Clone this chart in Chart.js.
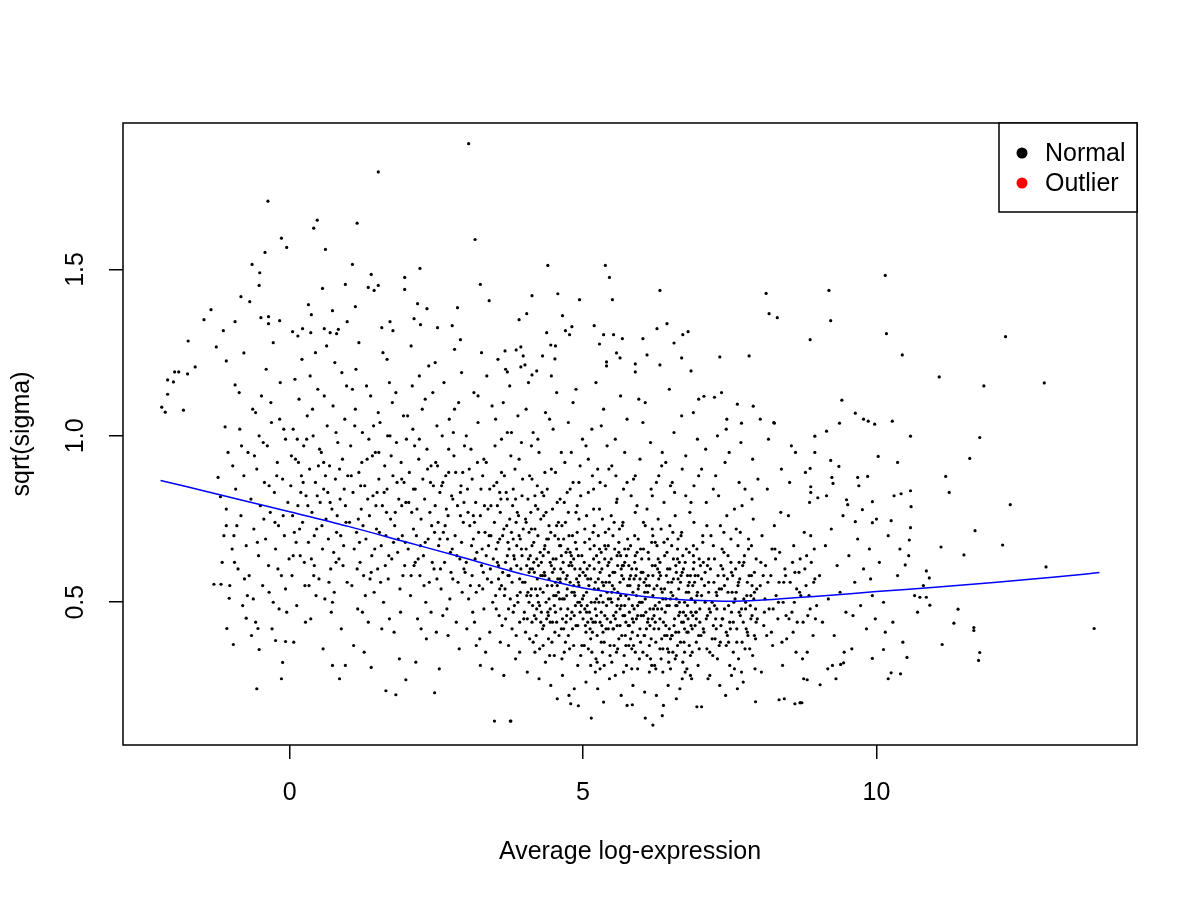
<!DOCTYPE html>
<html>
<head>
<meta charset="utf-8">
<script src="https://cdn.jsdelivr.net/npm/chart.js@4"></script>
<style>
  body { margin: 0; background: #fff; }
  canvas { display: block; }
</style>
</head>
<body>
<canvas id="myChart" width="1200" height="900"></canvas>
<script>
// axis set up
const xTicks = [0, 5, 10];
const yTicks = [0.5, 1.0, 1.5];
const legendLabels = ['Normal', 'Outlier'];
const legendColors = ['#000000', '#ff0000'];

// loess trend line
const trendX = [-2.2, -1, 0, 1, 2, 3, 3.5, 4, 4.5, 5, 5.5, 6, 6.5, 7, 7.5, 8, 8.5, 9, 10, 11, 12, 13, 13.8];
const trendY = [0.866, 0.815, 0.772, 0.728, 0.68, 0.632, 0.607, 0.583, 0.562, 0.543, 0.530, 0.518, 0.510, 0.505, 0.503, 0.506, 0.512, 0.518, 0.532, 0.545, 0.559, 0.575, 0.589];

// scattered genes away from the main cloud
const edgePts = [[3.05,1.878],[1.51,1.793],[-0.37,1.705],[0.47,1.648],[0.41,1.624],[1.15,1.639],[-0.14,1.594],[-0.05,1.566],[-0.42,1.551],[0.61,1.56],[3.16,1.59],
[-0.64,1.515],[-0.51,1.49],[-0.52,1.452],[1.07,1.515],[1.39,1.485],[2.22,1.503],[1.96,1.476],[0.95,1.455],[1.51,1.452],[1.34,1.446],[1.44,1.437],[0.56,1.443],[1.96,1.44],[3.25,1.455],[3.40,1.406],
[-0.83,1.418],[-0.68,1.403],[-1.34,1.379],[-1.46,1.349],[0.32,1.394],[0.37,1.364],[0.73,1.376],[1.12,1.388],[2.18,1.397],[2.34,1.382],[2.86,1.385],[3.91,1.349],[-0.49,1.355],[-0.36,1.358],[-0.36,1.337],
[-0.17,1.346],[-0.93,1.343],[-1.13,1.316],[-1.73,1.285],[-1.25,1.267],[-0.78,1.249],[-1.61,1.207],[-1.96,1.192],[-1.89,1.192],[-1.74,1.186],[-2.08,1.168],[-1.98,1.162],[-1.08,1.225],[-0.93,1.153],
[-2.08,1.125],[-2.18,1.086],[-2.12,1.071],[-1.81,1.077],[-1.10,1.027],[1.71,1.343],[1.57,1.325],[1.76,1.316],[2.12,1.352],[2.23,1.334],[2.52,1.325],[2.77,1.331],[2.91,1.289],[0.98,1.343],
[0.05,1.313],[0.22,1.322],[0.36,1.31],[0.59,1.322],[0.69,1.31],[0.80,1.307],
[4.40,1.512],[5.38,1.512],[5.45,1.476],[5.50,1.409],[6.31,1.437],[10.15,1.482],[8.12,1.428],[9.19,1.437],[8.17,1.367],[8.31,1.355],[9.22,1.346],[10.17,1.307],[8.87,1.289],
[4.13,1.421],[4.57,1.427],[4.94,1.409],[4.04,1.367],[4.65,1.361],[4.81,1.328],[4.70,1.316],[4.77,1.304],[5.19,1.331],[5.35,1.304],[5.52,1.304],[5.28,1.276],[5.67,1.292],[6.02,1.292],
[6.26,1.322],[6.43,1.337],[6.70,1.304],[6.79,1.313],[6.55,1.279],[4.38,1.31],[4.45,1.273],[4.53,1.27],[4.31,1.24],[4.52,1.231],[3.67,1.255],[3.86,1.258],[3.94,1.267],[3.98,1.24],[3.94,1.207],[4.01,1.213],
[3.71,1.192],[4.13,1.183],[4.21,1.195],[5.57,1.249],[5.63,1.234],[5.40,1.222],[5.40,1.21],[6.09,1.243],[5.89,1.216],[5.89,1.192],[6.31,1.213],[6.68,1.234],[6.84,1.195],[7.33,1.237],[7.83,1.24],
[7.06,1.119],[7.24,1.116],[6.97,1.11],[7.63,1.095],[7.90,1.089],[7.45,1.05],[7.70,1.038],[8.02,1.05],[8.26,1.038],[9.41,1.107],[9.64,1.068],[9.78,1.05],[9.86,1.044],[9.97,1.035],[10.27,1.044],
[9.37,1.038],[9.15,1.014],[8.95,0.999],[10.44,1.243],[12.20,1.298],[11.07,1.177],[11.83,1.15],[12.86,1.159],[10.58,0.999],[11.76,0.995],
[8.95,0.95],[9.22,0.926],[9.36,0.908],[8.87,0.902],[10.03,0.938],[10.36,0.92],[11.59,0.932],[9.68,0.875],[9.85,0.878],[11.18,0.878],[11.24,0.83],[9.24,0.875],[9.26,0.857],[8.88,0.847],[8.88,0.83],
[9.0,0.814],[10.42,0.826],[10.58,0.835],[9.49,0.808],[9.51,0.793],[9.93,0.802],[10.59,0.787],[12.28,0.793],[9.76,0.778],[9.64,0.742],[9.93,0.739],[10.25,0.745],[10.58,0.724],[11.68,0.715],
[10.56,0.687],[11.10,0.666],[12.15,0.672],[11.49,0.642],[12.89,0.606],[10.85,0.594],[10.90,0.573],[10.49,0.612],[10.74,0.515],[10.85,0.515],[10.91,0.491],[11.39,0.479],[11.32,0.437],[11.66,0.424],
[11.66,0.415],[11.12,0.373],[11.76,0.349],[11.74,0.325],[13.71,0.421],[10.52,0.334],[10.20,0.27],[10.25,0.288],[10.41,0.285],[9.93,0.331],[10.12,0.358],[9.31,0.27],[9.04,0.252],[8.82,0.267],
[8.70,0.198],[8.73,0.198],[9.17,0.30],[9.39,0.313],[9.44,0.318],
[-0.56,0.24],[-0.14,0.27],[-0.12,0.319],[-0.52,0.358],[-0.96,0.373],[-1.07,0.421],[-0.24,0.385],[-0.07,0.382],[0.85,0.27],[0.73,0.31],[0.95,0.31],[1.39,0.304],[1.64,0.234],[1.81,0.222],[2.47,0.228],
[3.49,0.143],[3.76,0.143],[1.98,0.267],[-1.29,0.554],[-1.17,0.554],[-1.03,0.512],[-1.08,0.73],[-1.18,0.817],[-1.22,0.875],[-0.74,0.452],[-0.54,0.421],
[3.77,0.143],[5.14,0.152],[6.06,0.152],[6.19,0.131],[6.35,0.159],[5.84,0.192],[4.79,0.195],[4.92,0.189],[6.94,0.186],[7.02,0.186],[7.94,0.201],[8.61,0.195],[8.70,0.198],[8.34,0.207],[8.43,0.21]];

// main cloud, left part (x < 2)
const cloudLeft = [[-1.15,0.62],[-1.08,0.78],[-1.02,0.55],[-0.97,0.91],[-0.95,0.70],[-0.92,0.84],[-0.88,0.60],[-0.85,1.02],[-0.83,0.76],[-0.80,0.49],[-0.78,0.88],[-0.74,0.67],[-0.71,0.95],[-0.69,0.58],[-0.66,0.81],
[-0.63,1.08],[-0.61,0.72],[-0.58,0.44],[-0.56,0.90],[-0.53,0.64],[-0.50,0.79],[-0.48,1.12],[-0.46,0.55],[-0.43,0.86],[-0.41,0.69],[-0.38,0.97],[-0.36,0.61],[-0.33,0.77],[-0.31,1.04],[-0.28,0.50],
[-0.26,0.83],[-0.24,0.66],[-0.21,0.92],[-0.19,0.73],[-0.16,1.16],[-0.14,0.58],[-0.12,0.87],[-0.09,0.70],[-0.07,0.99],[-0.05,0.47],[-0.03,0.80],[-0.01,0.63],[-0.90,0.73],[-0.72,0.52],[-0.52,1.00],
[-0.35,0.85],[-0.20,0.60],[-0.60,0.94],[-0.44,0.75],[-0.11,0.76],[-1.05,0.95],[-0.98,0.66],[-0.30,0.42],[-0.65,0.40],[-0.82,0.97],[-0.17,1.05],[-0.40,1.20],[-0.07,0.54],[-0.25,0.74],[-0.55,0.68],
[0.02,0.85],[0.04,0.58],[0.06,1.02],[0.08,0.71],[0.10,0.93],[0.12,0.49],[0.14,0.79],[0.16,1.11],[0.18,0.64],[0.20,0.88],[0.22,0.74],[0.24,0.97],[0.26,0.55],[0.28,0.82],[0.30,1.06],[0.32,0.68],
[0.34,0.90],[0.36,0.45],[0.38,0.77],[0.40,1.00],[0.42,0.61],[0.44,0.86],[0.46,0.72],[0.48,1.14],[0.50,0.57],[0.52,0.80],[0.54,0.95],[0.56,0.66],[0.58,0.84],[0.60,0.51],[0.62,0.75],[0.64,1.03],
[0.66,0.69],[0.68,0.91],[0.70,0.60],[0.72,0.78],[0.74,1.09],[0.76,0.53],[0.78,0.87],[0.80,0.71],[0.82,0.98],[0.84,0.63],[0.86,0.81],[0.88,0.42],[0.90,0.93],[0.92,0.67],[0.94,1.05],[0.96,0.74],
[0.98,0.56],[0.05,0.76],[0.15,0.92],[0.25,0.62],[0.35,1.18],[0.45,0.52],[0.55,0.73],[0.65,0.83],[0.75,0.65],[0.85,0.90],[0.95,0.79],[0.11,0.68],[0.21,1.23],[0.31,0.79],[0.41,0.58],[0.51,0.96],
[0.61,0.88],[0.71,0.47],[0.81,0.76],[0.91,0.61],[0.07,0.38],[0.27,0.44],[0.57,0.36],[0.77,1.22],[0.97,1.15],[0.17,0.72],[0.37,0.63],[0.67,0.56],[0.87,0.70],[0.47,0.82],[0.13,0.99],[0.63,1.27],
[1.02,0.74],[1.04,0.97],[1.06,0.55],[1.08,0.83],[1.10,0.66],[1.12,1.08],[1.14,0.71],[1.16,0.48],[1.18,0.89],[1.20,0.62],[1.22,0.78],[1.24,1.01],[1.26,0.58],[1.28,0.85],[1.30,0.69],[1.32,0.93],
[1.34,0.44],[1.36,0.76],[1.38,1.12],[1.40,0.64],[1.42,0.82],[1.44,0.53],[1.46,0.95],[1.48,0.72],[1.50,0.60],[1.52,0.87],[1.54,1.04],[1.56,0.67],[1.58,0.79],[1.60,0.50],[1.62,0.91],[1.64,0.70],
[1.66,0.84],[1.68,0.57],[1.70,1.16],[1.72,0.75],[1.74,0.63],[1.76,0.88],[1.78,0.41],[1.80,0.77],[1.82,0.98],[1.84,0.65],[1.86,0.81],[1.88,0.54],[1.90,0.92],[1.92,0.70],[1.94,1.06],[1.96,0.61],
[1.98,0.80],[1.05,0.88],[1.15,0.60],[1.25,0.73],[1.35,0.99],[1.45,0.66],[1.55,0.56],[1.65,0.77],[1.75,1.10],[1.85,0.69],[1.95,0.86],[1.09,0.37],[1.29,0.52],[1.49,0.83],[1.69,0.64],[1.89,0.47],
[1.13,1.20],[1.33,0.81],[1.53,0.71],[1.73,0.94],[1.93,0.58],[1.19,0.68],[1.39,0.59],[1.59,1.25],[1.79,0.73],[1.99,0.99],[1.23,0.92],[1.43,1.03],[1.63,0.61],[1.83,0.86],[1.27,0.35],[1.57,0.42],
[1.87,0.33],[1.47,0.79],[1.67,1.00],[1.97,0.68],[1.07,1.14]];

// main cloud, middle part (2 <= x < 5)
const cloudMid = [[2.02,0.66],[2.04,0.89],[2.06,0.52],[2.08,0.77],[2.10,1.02],[2.12,0.61],[2.14,0.84],[2.16,0.70],[2.18,0.45],[2.20,0.93],[2.22,0.58],[2.24,0.75],[2.26,1.08],[2.28,0.64],[2.30,0.81],
[2.32,0.50],[2.34,0.96],[2.36,0.69],[2.38,0.56],[2.40,0.86],[2.42,0.73],[2.44,1.13],[2.46,0.60],[2.48,0.79],[2.50,0.41],[2.52,0.91],[2.54,0.67],[2.56,0.83],[2.58,0.54],[2.60,1.00],[2.62,0.71],
[2.64,0.62],[2.66,0.88],[2.68,0.48],[2.70,0.76],[2.72,1.05],[2.74,0.65],[2.76,0.82],[2.78,0.57],[2.80,0.94],[2.82,0.70],[2.84,0.44],[2.86,0.79],[2.88,1.10],[2.90,0.63],[2.92,0.85],[2.94,0.53],
[2.96,0.74],[2.98,0.97],[2.03,0.80],[2.13,0.97],[2.23,0.67],[2.33,0.39],[2.43,0.62],[2.53,0.74],[2.63,1.16],[2.73,0.51],[2.83,0.89],[2.93,0.68],[2.07,0.58],[2.17,0.78],[2.27,0.87],[2.37,1.21],
[2.47,0.71],[2.57,0.60],[2.67,0.78],[2.77,0.66],[2.87,0.56],[2.97,0.80],[2.09,1.15],[2.29,0.55],[2.49,0.92],[2.69,0.69],[2.89,0.36],[2.19,0.63],[2.39,0.77],[2.59,0.85],[2.79,1.01],[2.99,0.59],
[2.11,0.72],[2.31,0.68],[2.51,0.57],[2.71,0.89],[2.91,0.76],[2.15,0.32],[2.55,0.30],[2.81,1.26],[2.41,0.47],[2.61,0.46],[2.21,1.18],[2.65,0.73],[2.85,0.64],[2.45,0.85],[2.75,0.59],[2.95,0.89],
[3.01,0.62],[3.03,0.84],[3.05,0.51],[3.07,0.73],[3.09,0.96],[3.11,0.58],[3.13,0.69],[3.15,0.44],[3.17,0.80],[3.19,0.65],[3.21,1.04],[3.23,0.55],[3.25,0.76],[3.27,0.61],[3.29,0.88],[3.31,0.48],
[3.33,0.71],[3.35,0.92],[3.37,0.57],[3.39,0.67],[3.41,0.41],[3.43,0.79],[3.45,1.09],[3.47,0.63],[3.49,0.74],[3.51,0.52],[3.53,0.86],[3.55,0.68],[3.57,0.46],[3.59,0.77],[3.61,0.99],[3.63,0.59],
[3.65,0.72],[3.67,0.54],[3.69,0.83],[3.71,0.64],[3.73,0.37],[3.75,0.75],[3.77,0.94],[3.79,0.56],[3.81,0.69],[3.83,0.49],[3.85,0.81],[3.87,0.61],[3.89,1.06],[3.91,0.70],[3.93,0.53],[3.95,0.66],
[3.97,0.87],[3.99,0.45],[3.02,0.42],[3.06,0.90],[3.10,0.67],[3.14,1.13],[3.18,0.53],[3.22,0.71],[3.26,0.84],[3.30,0.59],[3.34,0.35],[3.38,0.78],[3.42,0.60],[3.46,0.50],[3.50,0.97],[3.54,0.62],
[3.58,0.69],[3.62,0.43],[3.66,0.88],[3.70,0.73],[3.74,0.58],[3.78,1.01],[3.82,0.64],[3.86,0.40],[3.90,0.76],[3.94,0.60],[3.98,0.72],[3.04,0.77],[3.12,0.47],[3.20,0.92],[3.28,0.66],[3.36,1.18],
[3.44,0.56],[3.52,0.66],[3.60,0.81],[3.68,0.62],[3.76,0.51],[3.84,0.90],[3.92,0.57],[3.08,0.55],[3.16,0.63],[3.24,0.39],[3.32,0.79],[3.40,0.70],[3.48,0.85],[3.56,0.57],[3.64,1.10],[3.72,0.68],
[3.80,0.79],[3.88,0.52],[3.96,0.82],[3.45,0.30],[3.65,0.28],[3.85,0.33],[3.25,0.31],[3.55,1.23],[3.75,1.15],[3.95,0.98],[3.15,0.74],[3.35,0.64],[3.58,0.54],[3.78,0.71],[3.92,0.44],
[4.01,0.56],[4.03,0.74],[4.05,0.45],[4.07,0.63],[4.09,0.88],[4.11,0.52],[4.13,0.67],[4.15,0.38],[4.17,0.59],[4.19,0.79],[4.21,0.48],[4.23,0.70],[4.25,0.95],[4.27,0.54],[4.29,0.62],[4.31,0.42],
[4.33,0.76],[4.35,0.58],[4.37,0.50],[4.39,0.84],[4.41,0.65],[4.43,0.34],[4.45,0.71],[4.47,0.55],[4.49,1.02],[4.51,0.60],[4.53,0.47],[4.55,0.73],[4.57,0.57],[4.59,0.40],[4.61,0.81],[4.63,0.64],
[4.65,0.51],[4.67,0.69],[4.69,0.92],[4.71,0.44],[4.73,0.58],[4.75,0.77],[4.77,0.36],[4.79,0.62],[4.81,0.53],[4.83,0.86],[4.85,0.46],[4.87,0.68],[4.89,0.57],[4.91,0.31],[4.93,0.75],[4.95,0.60],
[4.97,0.49],[4.99,0.99],[4.02,0.41],[4.06,0.81],[4.10,0.60],[4.14,0.49],[4.18,0.72],[4.22,0.57],[4.26,0.36],[4.30,0.83],[4.34,0.66],[4.38,0.45],[4.42,0.57],[4.46,0.90],[4.50,0.52],[4.54,0.63],
[4.58,0.74],[4.62,0.48],[4.66,0.59],[4.70,0.38],[4.74,0.66],[4.78,0.84],[4.82,0.42],[4.86,0.60],[4.90,0.71],[4.94,0.50],[4.98,0.64],[4.04,0.61],[4.08,0.50],[4.12,0.97],[4.16,0.68],[4.20,0.40],
[4.24,0.61],[4.28,0.75],[4.32,0.53],[4.36,1.07],[4.40,0.47],[4.44,0.62],[4.48,0.78],[4.52,0.41],[4.56,0.55],[4.60,0.67],[4.64,0.33],[4.68,0.80],[4.72,0.52],[4.76,0.61],[4.80,0.95],[4.84,0.55],
[4.88,0.43],[4.92,0.64],[4.96,0.82],[4.05,0.29],[4.25,0.27],[4.45,0.25],[4.65,0.28],[4.85,0.24],[4.15,1.01],[4.35,0.89],[4.55,1.13],[4.75,1.04],[4.95,0.91],[4.12,0.54],[4.32,0.64],[4.52,0.70],
[4.72,0.46],[4.92,0.56],[4.08,0.71],[4.28,0.44],[4.48,0.59],[4.68,0.51],[4.88,0.77],[4.18,0.35],[4.38,0.69],[4.58,0.53],[4.78,0.56],[4.98,0.37],[4.22,0.85],[4.42,0.51],[4.62,0.60],[4.82,0.70],
[4.24,0.50],[4.44,0.44],[4.64,0.73],[4.84,0.63],[4.11,0.77],[4.31,0.58],[4.51,0.49],[4.71,0.65],[4.91,0.50],[4.21,0.63],[4.41,0.39],[4.61,0.56],[4.81,0.47],[4.56,0.21],[4.76,0.22],[4.36,0.32]];

// main cloud, dense core (5 <= x < 7)
const cloudCore = [[5.00,0.45],[5.01,0.52],[5.03,0.68],[5.05,0.41],[5.07,0.60],[5.09,0.83],[5.11,0.47],[5.13,0.57],[5.15,0.35],[5.17,0.71],[5.19,0.54],[5.21,0.44],[5.23,0.64],[5.25,0.90],[5.27,0.50],
[5.29,0.59],[5.31,0.38],[5.33,0.75],[5.35,0.55],[5.37,0.46],[5.39,0.66],[5.41,0.97],[5.43,0.42],[5.45,0.58],[5.47,0.51],[5.49,0.32],[5.51,0.70],[5.53,0.54],[5.55,0.45],[5.57,0.80],[5.59,0.61],
[5.61,0.39],[5.63,0.56],[5.65,0.49],[5.67,0.73],[5.69,0.29],[5.71,0.62],[5.73,0.52],[5.75,0.86],[5.77,0.43],[5.79,0.57],[5.81,0.67],[5.83,0.36],[5.85,0.53],[5.87,0.48],[5.89,0.77],[5.91,0.60],
[5.93,0.40],[5.95,0.55],[5.97,0.93],[5.99,0.46],[5.02,0.37],[5.06,0.76],[5.10,0.55],[5.14,0.45],[5.18,0.63],[5.22,0.33],[5.26,0.70],[5.30,0.52],[5.34,0.41],[5.38,0.85],[5.42,0.61],[5.46,0.37],
[5.50,0.55],[5.54,0.66],[5.58,0.43],[5.62,0.72],[5.66,0.58],[5.70,0.34],[5.74,0.64],[5.78,0.51],[5.82,0.82],[5.86,0.44],[5.90,0.58],[5.94,0.69],[5.98,0.38],[5.04,0.58],[5.08,0.44],[5.12,0.66],
[5.16,0.88],[5.20,0.50],[5.24,0.40],[5.28,0.78],[5.32,0.60],[5.36,0.31],[5.40,0.49],[5.44,0.72],[5.48,0.63],[5.52,0.42],[5.56,0.88],[5.60,0.51],[5.64,0.64],[5.68,0.46],[5.72,0.40],[5.76,0.69],
[5.80,0.55],[5.84,0.45],[5.88,0.62],[5.92,0.79],[5.96,0.50],[6.00,0.63],[5.05,0.26],[5.25,0.24],[5.45,0.27],[5.65,0.22],[5.85,0.25],[5.15,1.02],[5.35,1.08],[5.55,0.99],[5.75,1.05],[5.95,1.11],
[5.11,0.61],[5.31,0.47],[5.51,0.59],[5.71,0.49],[5.91,0.52],[5.07,0.49],[5.27,0.62],[5.47,0.44],[5.67,0.61],[5.87,0.57],[5.13,0.39],[5.33,0.56],[5.53,0.74],[5.73,0.37],[5.93,0.46],[5.19,0.73],
[5.39,0.42],[5.59,0.53],[5.79,0.47],[5.99,0.59],[5.21,0.56],[5.41,0.53],[5.61,0.65],[5.81,0.39],[5.03,0.48],[5.23,0.51],[5.43,0.67],[5.63,0.43],[5.83,0.60],[5.17,0.44],[5.37,0.63],[5.57,0.35],
[5.77,0.66],[5.97,0.42],[5.29,0.30],[5.49,0.50],[5.69,0.57],[5.89,0.35],[5.09,0.93],[5.29,0.86],[5.49,0.91],[5.69,0.84],[5.89,0.88],[5.35,0.20],[5.75,0.19],[5.55,0.28],[5.21,0.29],[5.93,0.30],
[6.01,0.50],[6.03,0.66],[6.05,0.40],[6.07,0.57],[6.09,0.78],[6.11,0.45],[6.13,0.55],[6.15,0.33],[6.17,0.68],[6.19,0.52],[6.21,0.42],[6.23,0.61],[6.25,0.86],[6.27,0.48],[6.29,0.57],[6.31,0.36],
[6.33,0.72],[6.35,0.53],[6.37,0.44],[6.39,0.64],[6.41,0.92],[6.43,0.40],[6.45,0.56],[6.47,0.49],[6.49,0.30],[6.51,0.67],[6.53,0.52],[6.55,0.43],[6.57,0.76],[6.59,0.59],[6.61,0.37],[6.63,0.54],
[6.65,0.47],[6.67,0.70],[6.69,0.27],[6.71,0.60],[6.73,0.50],[6.75,0.82],[6.77,0.41],[6.79,0.55],[6.81,0.65],[6.83,0.34],[6.85,0.51],[6.87,0.46],[6.89,0.74],[6.91,0.58],[6.93,0.38],[6.95,0.53],
[6.97,0.88],[6.99,0.44],[6.02,0.35],[6.06,0.73],[6.10,0.53],[6.14,0.43],[6.18,0.61],[6.22,0.31],[6.26,0.67],[6.30,0.50],[6.34,0.39],[6.38,0.80],[6.42,0.58],[6.46,0.35],[6.50,0.53],[6.54,0.63],
[6.58,0.41],[6.62,0.69],[6.66,0.56],[6.70,0.32],[6.74,0.62],[6.78,0.49],[6.82,0.77],[6.86,0.42],[6.90,0.56],[6.94,0.66],[6.98,0.36],[6.04,0.56],[6.08,0.42],[6.12,0.63],[6.16,0.84],[6.20,0.48],
[6.24,0.38],[6.28,0.75],[6.32,0.58],[6.36,0.29],[6.40,0.47],[6.44,0.69],[6.48,0.60],[6.52,0.40],[6.56,0.83],[6.60,0.49],[6.64,0.62],[6.68,0.44],[6.72,0.38],[6.76,0.66],[6.80,0.53],[6.84,0.43],
[6.88,0.60],[6.92,0.47],[6.96,0.58],[7.00,0.61],[6.05,0.23],[6.25,0.22],[6.45,0.25],[6.65,0.24],[6.85,0.27],[6.15,0.98],[6.35,0.95],[6.55,1.01],[6.75,0.94],[6.95,0.99],[6.11,0.58],[6.31,0.45],
[6.51,0.56],[6.71,0.47],[6.91,0.50],[6.07,0.47],[6.27,0.60],[6.47,0.42],[6.67,0.58],[6.87,0.55],[6.13,0.37],[6.33,0.54],[6.53,0.71],[6.73,0.35],[6.93,0.45],[6.19,0.70],[6.39,0.40],[6.59,0.51],
[6.79,0.45],[6.21,0.54],[6.41,0.51],[6.61,0.63],[6.81,0.37],[6.03,0.46],[6.23,0.49],[6.43,0.65],[6.63,0.41],[6.83,0.58],[6.17,0.31],[6.57,0.33],[6.77,0.30],[6.29,0.88],[6.49,0.85],[6.69,0.90],
[6.89,0.85],[6.37,0.19],[6.59,0.21]];

// extra genes in the darkest part of the cloud (3.5 <= x < 9)
const cloudDense = [[3.52,0.48],[3.56,0.61],[3.61,0.55],[3.63,0.70],[3.68,0.45],[3.72,0.58],[3.74,0.66],[3.79,0.42],[3.83,0.63],[3.86,0.74],[3.89,0.50],[3.93,0.69],[3.97,0.56],[4.00,0.47],[4.03,0.66],
[4.06,0.53],[4.09,0.39],[4.12,0.72],[4.14,0.60],[4.17,0.46],[4.19,0.54],[4.23,0.78],[4.26,0.49],[4.28,0.58],[4.33,0.43],[4.35,0.67],[4.39,0.55],[4.42,0.73],[4.44,0.48],[4.47,0.38],[4.49,0.63],
[4.53,0.56],[4.55,0.44],[4.58,0.69],[4.60,0.51],[4.63,0.42],[4.66,0.62],[4.68,0.35],[4.71,0.57],[4.74,0.48],[4.76,0.70],[4.79,0.45],[4.81,0.61],[4.84,0.37],[4.86,0.52],[4.89,0.66],[4.91,0.43],
[4.94,0.58],[4.96,0.34],[4.99,0.51],[5.02,0.62],[5.04,0.43],[5.06,0.53],[5.09,0.36],[5.11,0.69],[5.14,0.50],[5.16,0.41],[5.19,0.60],[5.21,0.48],[5.24,0.32],[5.26,0.57],[5.29,0.44],[5.31,0.65],
[5.34,0.50],[5.36,0.38],[5.39,0.56],[5.41,0.45],[5.44,0.62],[5.46,0.34],[5.49,0.53],[5.51,0.42],[5.54,0.59],[5.56,0.47],[5.59,0.36],[5.61,0.68],[5.64,0.52],[5.66,0.40],[5.69,0.61],[5.71,0.46],
[5.74,0.31],[5.76,0.55],[5.79,0.43],[5.81,0.58],[5.84,0.49],[5.86,0.37],[5.89,0.64],[5.91,0.45],[5.94,0.54],[5.96,0.33],[5.99,0.50],[6.02,0.59],[6.04,0.40],[6.06,0.51],[6.09,0.34],[6.11,0.65],
[6.14,0.48],[6.16,0.39],[6.19,0.58],[6.21,0.46],[6.24,0.30],[6.26,0.55],[6.29,0.42],[6.31,0.62],[6.34,0.48],[6.36,0.36],[6.39,0.54],[6.41,0.43],[6.44,0.60],[6.46,0.32],[6.49,0.51],[6.51,0.40],
[6.54,0.57],[6.56,0.45],[6.59,0.34],[6.61,0.66],[6.64,0.50],[6.66,0.38],[6.69,0.59],[6.71,0.44],[6.74,0.29],[6.76,0.53],[6.79,0.41],[6.81,0.56],[6.84,0.47],[6.86,0.35],[6.89,0.62],[6.91,0.43],
[6.94,0.52],[6.96,0.31],[6.99,0.48],[7.02,0.57],[7.05,0.42],[7.08,0.50],[7.11,0.36],[7.14,0.63],[7.17,0.47],[7.20,0.39],[7.23,0.56],[7.26,0.45],[7.29,0.33],[7.32,0.54],[7.35,0.43],[7.38,0.60],
[7.41,0.48],[7.44,0.37],[7.47,0.53],[7.50,0.44],[7.53,0.59],[7.56,0.35],[7.59,0.51],[7.62,0.42],[7.65,0.56],[7.68,0.46],[7.71,0.38],[7.74,0.62],[7.77,0.50],[7.80,0.41],[7.83,0.58],[7.86,0.45],
[7.89,0.34],[7.92,0.53],[7.95,0.44],
[3.54,0.79],[3.59,0.38],[3.66,0.52],[3.71,0.81],[3.77,0.60],[3.81,0.47],[3.88,0.77],[3.92,0.35],[3.96,0.64],[4.02,0.75],[4.08,0.59],[4.13,0.44],[4.18,0.82],[4.22,0.52],[4.27,0.65],[4.32,0.37],
[4.37,0.77],[4.41,0.46],[4.46,0.61],[4.51,0.34],[4.56,0.80],[4.61,0.57],[4.65,0.45],[4.70,0.74],[4.75,0.40],[4.80,0.64],[4.85,0.53],[4.90,0.79],[4.95,0.47],[5.03,0.72],[5.08,0.57],[5.13,0.31],
[5.18,0.78],[5.23,0.46],[5.28,0.66],[5.33,0.35],[5.38,0.71],[5.43,0.51],[5.48,0.76],[5.53,0.37],[5.58,0.64],[5.63,0.48],[5.68,0.74],[5.73,0.44],[5.78,0.61],[5.83,0.30],[5.88,0.70],[5.93,0.49],
[5.98,0.66],[6.03,0.74],[6.08,0.55],[6.13,0.29],[6.18,0.72],[6.23,0.44],[6.28,0.63],[6.33,0.33],[6.38,0.68],[6.43,0.49],[6.48,0.73],[6.53,0.35],[6.58,0.61],[6.63,0.46],[6.68,0.71],[6.73,0.42],
[6.78,0.58],[6.83,0.28],[6.88,0.67],[6.93,0.47],[6.98,0.63],[7.04,0.70],[7.10,0.45],[7.16,0.28],[7.22,0.67],[7.28,0.52],[7.34,0.38],[7.40,0.71],[7.46,0.40],[7.52,0.62],[7.58,0.30],[7.64,0.67],
[7.70,0.48],[7.76,0.36],[7.82,0.69],[7.88,0.55],[7.94,0.48],[8.03,0.62],[8.09,0.47],[8.15,0.56],[8.21,0.41],[8.27,0.66],[8.33,0.50],[8.39,0.38],[8.45,0.58],[8.51,0.45],[8.57,0.62],[8.63,0.35],
[8.69,0.53],[8.75,0.44],[8.81,0.64],[8.87,0.48],[8.93,0.56],
[0.06,0.64],[0.23,0.86],[0.42,0.70],[0.58,0.92],[0.79,0.62],[0.93,0.84],[1.17,0.75],[1.37,0.57],[1.52,0.95],[1.77,0.68],[1.91,0.79],[2.14,0.62],[2.35,0.90],[2.56,0.69],[2.78,0.81],[2.97,0.60],
[3.13,0.76],[3.29,0.54],[3.43,0.70],[3.58,0.83],[3.73,0.48],[3.87,0.67],[4.04,0.52],[4.16,0.62],[4.29,0.47],[4.41,0.69],[4.54,0.52],[4.67,0.42],[4.78,0.65],[4.93,0.55],[5.06,0.47],[5.19,0.67],
[5.32,0.43],[5.45,0.56],[5.58,0.49],[5.71,0.66],[5.84,0.41],[5.97,0.57],[6.10,0.44],[6.23,0.68],[6.36,0.51],[6.49,0.39],[6.62,0.57],[6.75,0.46],[6.88,0.64],[7.01,0.40],[7.14,0.53],[7.27,0.42],
[7.40,0.58],[7.53,0.47],[7.66,0.62],[7.79,0.52],[7.92,0.40],[8.07,0.58],[8.24,0.48],[8.42,0.56],[8.60,0.50],[8.78,0.60],[8.96,0.45],
[4.10,0.64],[4.20,0.45],[4.34,0.59],[4.48,0.44],[4.62,0.67],[4.73,0.54],[4.87,0.49],[5.00,0.59],[5.12,0.42],[5.26,0.54],[5.37,0.67],[5.52,0.46],[5.65,0.60],[5.78,0.37],[5.92,0.65],[6.05,0.53],
[6.18,0.45],[6.30,0.59],[6.44,0.36],[6.58,0.49],[6.70,0.64],[6.84,0.51],[6.97,0.40],[7.12,0.61],[7.24,0.49],[7.37,0.66],[7.48,0.38],[7.61,0.53],[7.73,0.44],[7.87,0.58]];

// extra genes in the upper half of the cloud
const cloudUpper = [[-0.45,0.98],[-0.32,1.10],[-0.22,0.88],[-0.10,1.02],[0.03,0.94],[0.09,1.17],[0.19,0.83],[0.29,0.99],[0.39,1.08],[0.49,0.91],[0.59,1.12],[0.69,0.80],[0.79,1.01],[0.89,1.19],
[0.99,0.88],[1.11,1.03],[1.21,0.85],[1.31,1.15],[1.41,0.94],[1.51,1.07],[1.61,0.83],[1.71,1.00],[1.81,1.13],[1.91,0.87],[2.01,1.06],[2.11,0.84],[2.21,0.99],[2.31,1.11],[2.41,0.91],[2.51,1.03],
[2.61,0.86],[2.71,0.96],[2.81,1.08],[2.91,0.83],[3.01,1.00],[3.11,0.87],[3.21,1.12],[3.31,0.93],[3.41,0.84],[3.51,1.05],[3.61,0.89],[3.71,1.01],[3.81,0.84],[3.91,0.93],[4.03,1.08],[4.13,0.87],
[4.23,0.99],[4.33,0.82],[4.43,1.05],[4.53,0.89],[4.63,0.95],[4.73,0.83],[4.83,1.10],[4.93,0.86],[5.05,0.97],[5.18,0.84],[5.31,1.03],[5.44,0.90],[5.58,0.81],[5.71,0.95],[5.86,0.87],[6.02,1.04],
[6.18,0.82],[6.34,0.91],[6.52,0.86],[6.68,1.06],[6.84,0.80],[7.02,0.90],[7.22,0.84],[7.44,1.02],[7.66,0.86],[7.88,0.81],
[-0.28,1.28],[0.14,1.30],[0.44,1.25],[0.83,1.32],[1.18,1.28],[1.66,1.23],[2.07,1.27],[2.48,1.22],[2.93,1.19],[3.27,1.25],[3.68,1.20],[4.07,1.16],[4.46,1.18],[4.88,1.14],[5.22,1.16],[5.64,1.12],
[6.06,1.10],[6.47,1.14],[6.88,1.07],[7.36,1.13],[-0.58,1.07],[-0.86,1.13],[-0.94,0.62],[-1.12,0.70],[-0.77,0.57],[-0.62,0.51],[-0.35,0.53],[-0.18,0.48],[0.33,0.55],[0.73,0.50],[1.24,0.47],
[1.70,0.45],[2.24,0.42],[2.70,0.40],[3.18,0.37]];

// main cloud, right tail (x >= 7)
const cloudRight = [[7.02,0.52],[7.04,0.68],[7.06,0.41],[7.08,0.59],[7.10,0.80],[7.12,0.46],[7.14,0.56],[7.16,0.35],[7.18,0.70],[7.20,0.50],[7.22,0.43],[7.24,0.63],[7.26,0.88],[7.28,0.48],[7.30,0.58],
[7.32,0.37],[7.34,0.73],[7.36,0.54],[7.38,0.45],[7.40,0.65],[7.42,0.92],[7.44,0.41],[7.46,0.57],[7.48,0.49],[7.50,0.31],[7.52,0.69],[7.54,0.53],[7.56,0.44],[7.58,0.78],[7.60,0.60],[7.62,0.38],
[7.64,0.55],[7.66,0.47],[7.68,0.71],[7.70,0.29],[7.72,0.61],[7.74,0.51],[7.76,0.84],[7.78,0.42],[7.80,0.56],[7.82,0.66],[7.84,0.36],[7.86,0.52],[7.88,0.46],[7.90,0.75],[7.92,0.59],[7.94,0.39],
[7.96,0.54],[7.98,0.87],[7.05,0.62],[7.15,0.48],[7.25,0.39],[7.35,0.61],[7.45,0.76],[7.55,0.58],[7.65,0.33],[7.75,0.64],[7.85,0.49],[7.95,0.63],[7.09,0.96],[7.29,1.00],[7.49,0.95],[7.69,0.98],
[7.89,0.93],[7.13,0.27],[7.33,0.25],[7.53,0.28],[7.73,0.26],[7.93,0.30],[7.07,0.55],[7.17,0.60],[7.27,0.53],[7.37,0.45],[7.47,0.64],[7.57,0.50],[7.67,0.57],[7.77,0.48],[7.87,0.67],[7.97,0.45],
[7.11,0.73],[7.31,0.82],[7.51,0.42],[7.71,0.79],[7.91,0.51],[7.21,0.34],[7.41,0.55],[7.61,0.72],[7.81,0.40],[7.43,0.22],[7.63,0.24],
[8.02,0.55],[8.05,0.70],[8.08,0.43],[8.11,0.61],[8.14,0.84],[8.17,0.48],[8.20,0.58],[8.23,0.37],[8.26,0.73],[8.29,0.52],[8.32,0.45],[8.35,0.65],[8.38,0.90],[8.41,0.50],[8.44,0.60],[8.47,0.39],
[8.50,0.76],[8.53,0.56],[8.56,0.47],[8.59,0.67],[8.62,0.95],[8.65,0.44],[8.68,0.59],[8.71,0.52],[8.74,0.33],[8.77,0.71],[8.80,0.55],[8.83,0.46],[8.86,0.80],[8.89,0.62],[8.92,0.40],[8.95,0.57],
[8.98,0.49],[8.04,0.29],[8.16,0.99],[8.28,0.63],[8.40,0.31],[8.52,0.86],[8.64,0.54],[8.76,0.27],[8.88,0.70],[8.10,0.51],[8.22,0.66],[8.34,0.56],[8.46,0.46],[8.58,0.41],[8.70,0.63],[8.82,0.35],
[8.94,0.66],[8.13,0.40],[8.37,0.77],[8.61,0.59],[8.85,0.52],[8.25,1.04],[8.55,0.97],[8.79,0.89],
[9.03,0.58],[9.08,0.44],[9.13,0.67],[9.18,0.51],[9.23,0.72],[9.28,0.40],[9.33,0.61],[9.38,0.53],[9.43,0.76],[9.48,0.47],[9.53,0.64],[9.58,0.36],[9.63,0.56],[9.68,0.69],[9.73,0.49],[9.78,0.60],
[9.83,0.42],[9.88,0.66],[9.93,0.52],[9.98,0.45],[10.05,0.62],[10.12,0.50],[10.20,0.70],[10.28,0.44],[10.36,0.58],[10.45,0.38],[10.55,0.64],[10.65,0.52],[9.15,0.82],[9.45,0.35],[9.70,0.85],
[10.00,0.75],[10.30,0.82],[9.25,0.31],[9.60,0.46],[9.90,0.57],[10.15,0.41],[10.40,0.66],[10.70,0.47],[10.80,0.55]];

const normalPts = edgePts.concat(cloudLeft, cloudMid, cloudCore, cloudDense, cloudUpper, cloudRight).map(p => ({x: p[0], y: p[1]}));
const outlierPts = [];
const trendPts = trendX.map((x, i) => ({x: x, y: trendY[i]}));

const FONT = '"Liberation Sans", Arial, Helvetica, sans-serif';
const FONT_SIZE = 25;

// R-style box around the plot, rotated y tick labels and the legend
const boxPlugin = {
    id: 'rbox',
    afterDraw(chart) {
        const ctx = chart.ctx;
        const a = chart.chartArea;
        ctx.save();
        ctx.strokeStyle = '#000';
        ctx.lineWidth = 1.5;
        ctx.strokeRect(a.left, a.top, a.right - a.left, a.bottom - a.top);

        // y tick labels, rotated like R's las=0
        const ys = chart.scales.y;
        ctx.fillStyle = '#000';
        ctx.font = FONT_SIZE + 'px ' + FONT;
        ctx.textAlign = 'center';
        ctx.textBaseline = 'middle';
        yTicks.forEach(v => {
            const py = ys.getPixelForValue(v);
            ctx.save();
            ctx.translate(76, py);
            ctx.rotate(-Math.PI / 2);
            ctx.fillText(v.toFixed(1), 0, 0);
            ctx.restore();
        });

        // legend box in the top right corner
        const w = 138, h = 89;
        const lx = a.right - w, ly = a.top;
        ctx.fillStyle = '#fff';
        ctx.fillRect(lx, ly, w, h);
        ctx.strokeRect(lx, ly, w, h);
        ctx.textAlign = 'left';
        legendLabels.forEach((lab, i) => {
            const cy = ly + 30 + i * 30;
            ctx.fillStyle = legendColors[i];
            ctx.beginPath();
            ctx.arc(lx + 23, cy, 5.5, 0, Math.PI * 2);
            ctx.fill();
            ctx.fillStyle = '#000';
            ctx.fillText(lab, lx + 46, cy + 1);
        });
        ctx.restore();
    }
};

const ctx = document.getElementById('myChart').getContext('2d');
const myChart = new Chart(ctx, {
    type: 'scatter',
    data: {
        datasets: [{
            label: 'trend',
            type: 'line',
            data: trendPts,
            borderColor: '#0000ff',
            borderWidth: 1.5,
            pointRadius: 0,
            fill: false,
            cubicInterpolationMode: 'monotone',
            order: 0
        }, {
            label: legendLabels[0],
            data: normalPts,
            backgroundColor: legendColors[0],
            borderWidth: 0,
            pointRadius: 1.6,
            order: 1
        }, {
            label: legendLabels[1],
            data: outlierPts,
            backgroundColor: legendColors[1],
            borderWidth: 0,
            pointRadius: 1.6,
            order: 2
        }]
    },
    options: {
        responsive: false,
        animation: false,
        devicePixelRatio: 1,
        layout: { padding: { top: 123, right: 63, left: 0, bottom: 0 } },
        plugins: {
            legend: { display: false },
            tooltip: { enabled: false }
        },
        scales: {
            x: {
                type: 'linear',
                min: -2.84,
                max: 14.44,
                afterFit: (s) => { s.height = 155; },
                afterBuildTicks: (s) => { s.ticks = xTicks.map(v => ({value: v})); },
                border: { display: false },
                grid: { drawOnChartArea: false, drawTicks: true, tickLength: 14, color: '#000', lineWidth: 1.5 },
                ticks: {
                    color: '#000',
                    font: { family: FONT, size: FONT_SIZE },
                    padding: 19,
                    maxRotation: 0,
                    callback: (v) => String(v)
                },
                title: {
                    display: true,
                    text: 'Average log-expression',
                    color: '#000',
                    font: { family: FONT, size: FONT_SIZE },
                    padding: { top: 0, bottom: 33 }
                }
            },
            y: {
                type: 'linear',
                min: 0.071,
                max: 1.94,
                afterFit: (s) => { s.width = 123; },
                afterBuildTicks: (s) => { s.ticks = yTicks.map(v => ({value: v})); },
                border: { display: false },
                grid: { drawOnChartArea: false, drawTicks: true, tickLength: 14, color: '#000', lineWidth: 1.5 },
                ticks: { display: false },
                title: {
                    display: true,
                    text: 'sqrt(sigma)',
                    color: '#000',
                    font: { family: FONT, size: FONT_SIZE },
                    padding: { top: 7, bottom: 0 }
                }
            }
        }
    },
    plugins: [boxPlugin]
});
</script>
</body>
</html>
